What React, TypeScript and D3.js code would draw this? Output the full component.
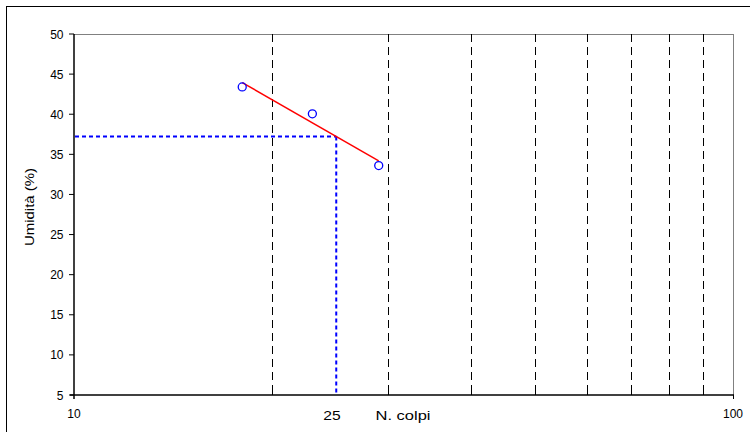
import React from "react";
import * as d3 from "d3";

const blows = [18, 23, 29];
const moisture = [43.4, 40.05, 33.6];
const gridX = [20, 30, 40, 50, 60, 70, 80, 90];
const yTicks = [5, 10, 15, 20, 25, 30, 35, 40, 45, 50];
const xLabels = [10, 100];
const refBlows = 25;

export default function App() {
  const W = 750, H = 432;
  const left = 74, right = 733, top = 34, bottom = 395;
  const x = d3.scaleLog().domain([10, 100]).range([left, right]);
  const y = d3.scaleLinear().domain([5, 50]).range([bottom, top]);

  const lx = blows.map((b) => Math.log10(b));
  const mx = d3.mean(lx)!;
  const my = d3.mean(moisture)!;
  let sxy = 0, sxx = 0;
  lx.forEach((v, i) => { sxy += (v - mx) * (moisture[i] - my); sxx += (v - mx) ** 2; });
  const slope = sxy / sxx;
  const fit = (b: number) => my + slope * (Math.log10(b) - mx);
  const w25 = fit(refBlows);
  const line = d3.line<number>().x((b) => x(b)).y((b) => y(fit(b)));
  const ext = d3.extent(blows) as [number, number];

  const font = "'Liberation Sans', Arial, sans-serif";
  return (
    <svg width={W} height={H} style={{ position: "absolute", left: 0, top: 0 }} fontFamily={font}>
      <rect x={0} y={0} width={W} height={H} fill="#fff" />
      <rect x={6.5} y={6.5} width={W + 10} height={H + 10} fill="none" stroke="#000" strokeWidth={1} />
      {/* plot border */}
      <line x1={left} x2={right} y1={top + 0.5} y2={top + 0.5} stroke="#808080" strokeWidth={1} />
      <line x1={right + 0.5} x2={right + 0.5} y1={top} y2={bottom} stroke="#808080" strokeWidth={1} />
      {/* dashed vertical grid */}
      {gridX.map((g) => (
        <line key={g} x1={Math.round(x(g)) + 0.5} x2={Math.round(x(g)) + 0.5} y1={top} y2={bottom}
          stroke="#000" strokeWidth={1} strokeDasharray="8,5" />
      ))}
      {/* minor ticks inside */}
      {gridX.map((g) => (
        <line key={"t" + g} x1={Math.round(x(g)) + 0.5} x2={Math.round(x(g)) + 0.5} y1={bottom - 5} y2={bottom}
          stroke="#000" strokeWidth={1} />
      ))}
      {/* axes */}
      <line x1={left} x2={left} y1={top} y2={bottom + 4} stroke="#000" strokeWidth={1.5} />
      <line x1={left - 4} x2={right + 1} y1={bottom} y2={bottom} stroke="#000" strokeWidth={1.5} />
      <line x1={right + 0.5} x2={right + 0.5} y1={bottom} y2={bottom + 4} stroke="#000" strokeWidth={1} />
      {yTicks.map((t) => (
        <g key={t}>
          <line x1={left - 5} x2={left} y1={y(t)} y2={y(t)} stroke="#000" strokeWidth={1} />
          <text x={63.5} y={y(t) + 4.5} textAnchor="end" fontSize={12} fill="#000">{t}</text>
        </g>
      ))}
      {xLabels.map((t) => (
        <text key={t} x={x(t)} y={417.5} textAnchor="middle" fontSize={12} fill="#000">{t}</text>
      ))}
      <text x={332} y={419.5} textAnchor="middle" fontSize={13.5} fill="#000"
        textLength={17.4} lengthAdjust="spacingAndGlyphs">{refBlows}</text>
      <text x={403} y={420} textAnchor="middle" fontSize={13.5} fill="#000"
        textLength={55} lengthAdjust="spacingAndGlyphs">N. colpi</text>
      <text transform={`translate(33.5,207) rotate(-90)`} textAnchor="middle" fontSize={13.5} fill="#000"
        textLength={78} lengthAdjust="spacingAndGlyphs">Umidità (%)</text>
      {/* blue dotted reference lines */}
      <line x1={left + 1} x2={x(refBlows)} y1={y(w25)} y2={y(w25)} stroke="#0000ff" strokeWidth={2} strokeDasharray="4,3" />
      <line x1={x(refBlows)} x2={x(refBlows)} y1={y(w25)} y2={bottom} stroke="#0000ff" strokeWidth={2} strokeDasharray="4,3" />
      {/* fit line */}
      <path d={line(ext) || ""} fill="none" stroke="#ff0000" strokeWidth={1.5} />
      {/* points */}
      {blows.map((b, i) => (
        <circle key={b} cx={x(b)} cy={y(moisture[i])} r={4} fill="none" stroke="#0000ff" strokeWidth={1.3} />
      ))}
    </svg>
  );
}
